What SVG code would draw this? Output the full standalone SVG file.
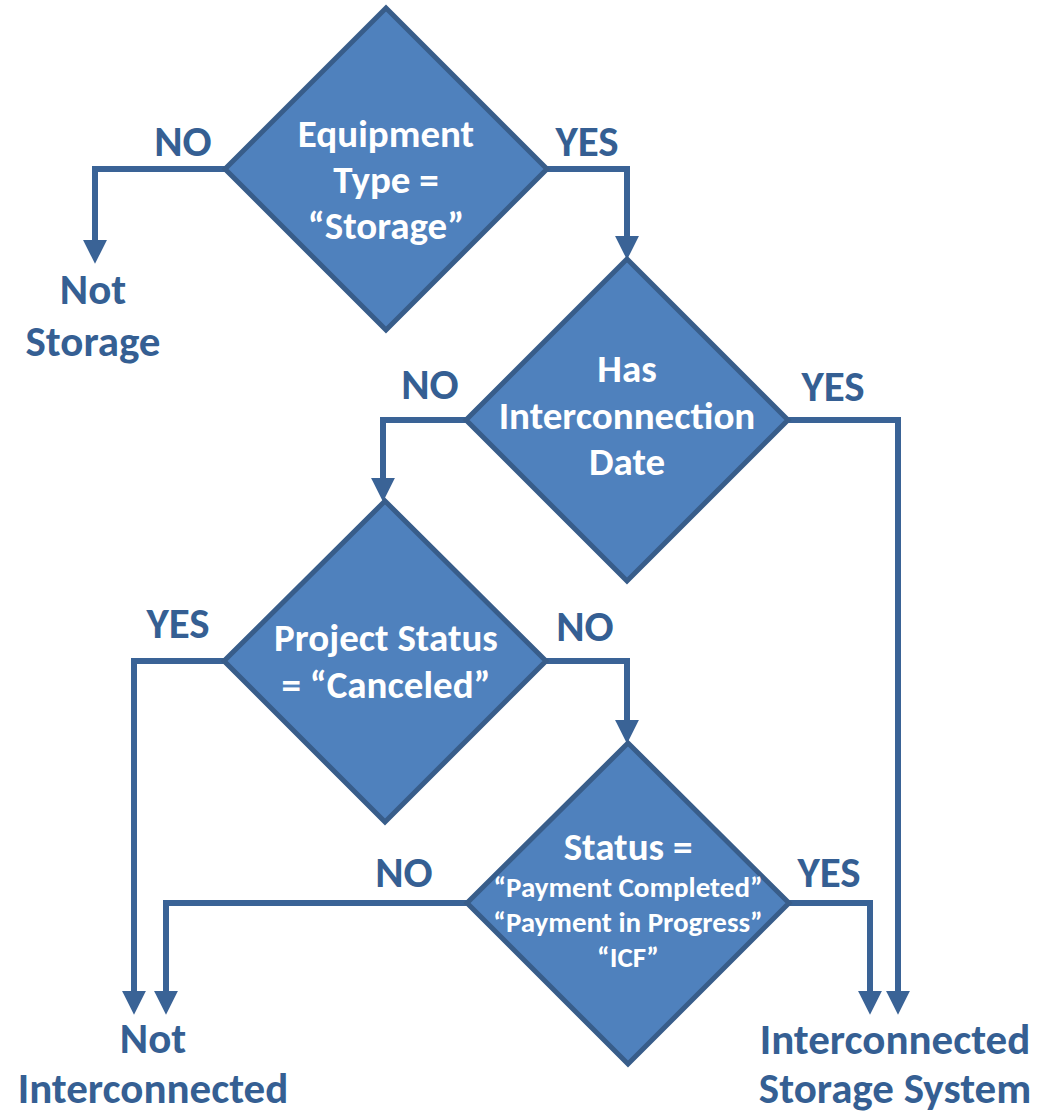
<svg xmlns="http://www.w3.org/2000/svg" width="1038" height="1115" viewBox="0 0 1038 1115">
  <style>
    .dia { fill: #4f81bd; stroke: #385d8a; stroke-width: 5; stroke-linejoin: miter; }
    .dt { font-family: Carlito, Lato, "Open Sans", sans-serif; font-weight: bold; fill: #ffffff; font-size: 39px; text-anchor: middle; }
    .ds { font-size: 29px; }
    .lbl { font-family: Carlito, Lato, "Open Sans", sans-serif; font-weight: bold; fill: #355f93; font-size: 43px; text-anchor: middle; }
    .con { fill: none; stroke: #3a6396; stroke-width: 6; stroke-linejoin: miter; }
  </style>
  <defs>
    <marker id="arr" markerUnits="userSpaceOnUse" markerWidth="24" markerHeight="24" refX="2" refY="11" orient="auto" viewBox="0 0 22 22">
      <path d="M0,0 L22,11 L0,22 Z" fill="#3a6396"/>
    </marker>
  </defs>

  <g id="connectors">
    <path class="con" d="M226,169 H95 V242" marker-end="url(#arr)"/>
    <path class="con" d="M546,169 H627 V238" marker-end="url(#arr)"/>
    <path class="con" d="M466,420 H383 V480" marker-end="url(#arr)"/>
    <path class="con" d="M787,420 H898 V993" marker-end="url(#arr)"/>
    <path class="con" d="M224,661 H134 V993" marker-end="url(#arr)"/>
    <path class="con" d="M545,661 H627 V722" marker-end="url(#arr)"/>
    <path class="con" d="M468,903 H166 V993" marker-end="url(#arr)"/>
    <path class="con" d="M788,903 H870 V993" marker-end="url(#arr)"/>
  </g>

  <g id="d1">
    <polygon class="dia" points="386,8 547,169 386,330 225,169"/>
    <text class="dt" x="386" y="147">Equipment</text>
    <text class="dt" x="386" y="193">Type =</text>
    <text class="dt" x="386" y="239">“Storage”</text>
  </g>
  <g id="d2">
    <polygon class="dia" points="627,259 788,420 627,581 466,420"/>
    <text class="dt" x="627" y="382">Has</text>
    <text class="dt" x="627" y="429">Interconnection</text>
    <text class="dt" x="627" y="475">Date</text>
  </g>
  <g id="d3">
    <polygon class="dia" points="385,501 546,661 385,822 224,661"/>
    <text class="dt" x="386" y="651">Project Status</text>
    <text class="dt" x="386" y="698">= “Canceled”</text>
  </g>
  <g id="d4">
    <polygon class="dia" points="628,743 789,903 628,1064 467,903"/>
    <text class="dt" x="628" y="860">Status =</text>
    <text class="dt ds" x="628" y="897">“Payment Completed”</text>
    <text class="dt ds" x="628" y="932">“Payment in Progress”</text>
    <text class="dt ds" x="628" y="967">“ICF”</text>
  </g>

  <g id="labels">
    <text class="lbl" x="183" y="156">NO</text>
    <text class="lbl" x="587" y="156">YES</text>
    <text class="lbl" x="430" y="399">NO</text>
    <text class="lbl" x="833" y="401">YES</text>
    <text class="lbl" x="178" y="638">YES</text>
    <text class="lbl" x="585" y="641">NO</text>
    <text class="lbl" x="404" y="887">NO</text>
    <text class="lbl" x="829" y="887">YES</text>
  </g>

  <g id="not-storage">
    <text class="lbl" x="93" y="304">Not</text>
    <text class="lbl" x="93" y="356">Storage</text>
  </g>
  <g id="not-interconnected">
    <text class="lbl" x="153" y="1053">Not</text>
    <text class="lbl" x="153" y="1103">Interconnected</text>
  </g>
  <g id="interconnected-storage">
    <text class="lbl" x="895" y="1054">Interconnected</text>
    <text class="lbl" x="895" y="1103">Storage System</text>
  </g>
</svg>
